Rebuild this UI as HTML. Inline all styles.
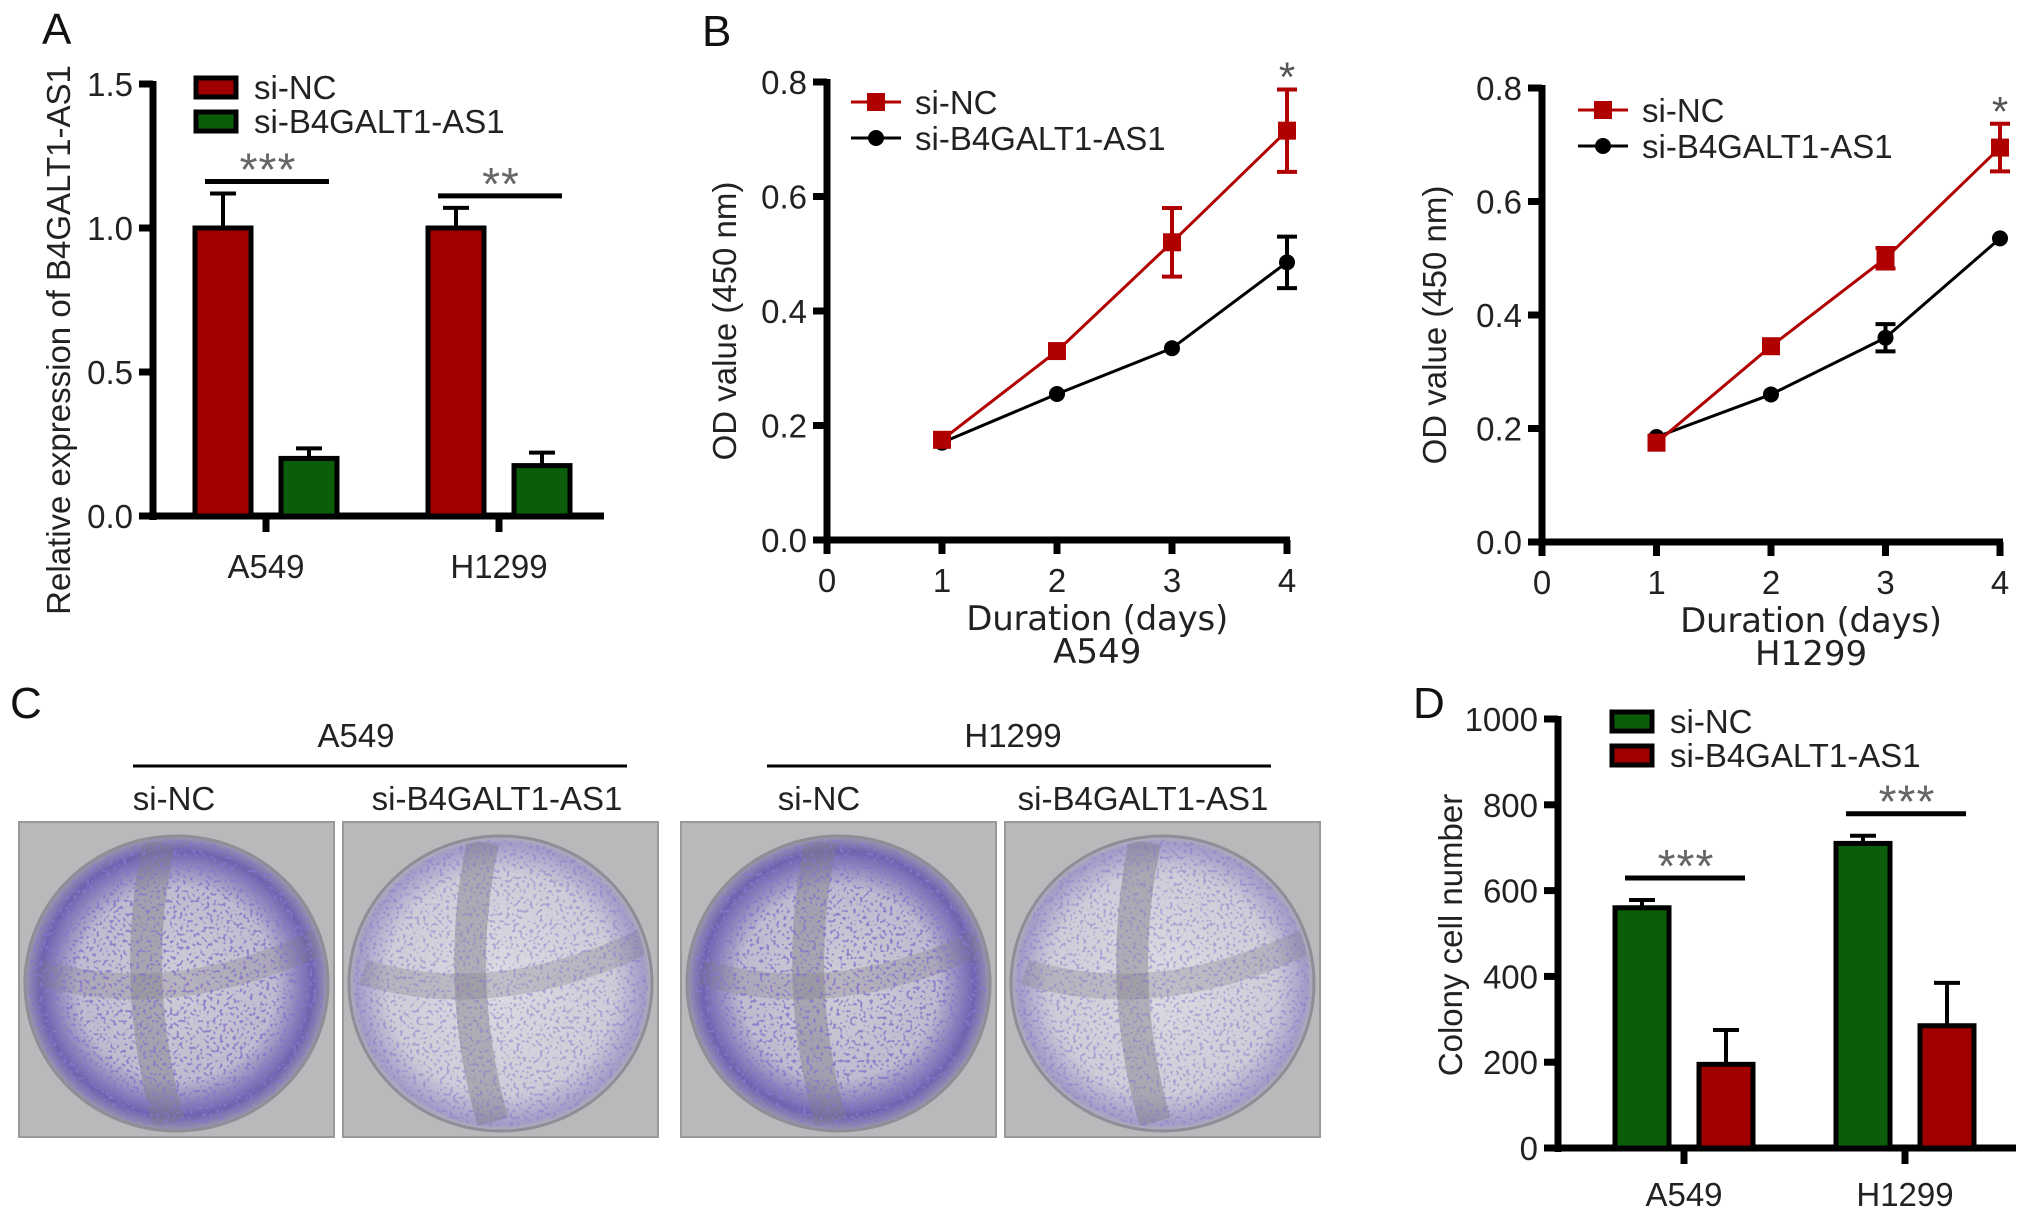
<!DOCTYPE html>
<html><head><meta charset="utf-8">
<style>
html,body{margin:0;padding:0;background:#fff;}
svg{display:block;font-family:"Liberation Sans",sans-serif;}
</style></head>
<body>
<svg id="fig" width="2032" height="1221" viewBox="0 0 2032 1221" xmlns="http://www.w3.org/2000/svg">
<defs>
<radialGradient id="wellGrad" cx="50%" cy="50%" r="50%">
<stop offset="0%" stop-color="#cfcdd6"/><stop offset="65%" stop-color="#bfbbd0"/><stop offset="90%" stop-color="#6e62b0"/><stop offset="100%" stop-color="#9c98b0"/>
</radialGradient>
<radialGradient id="wellGradLight" cx="50%" cy="50%" r="50%">
<stop offset="0%" stop-color="#dcdbe2"/><stop offset="75%" stop-color="#ceccd8"/><stop offset="95%" stop-color="#a49cc8"/><stop offset="100%" stop-color="#b0aeb8"/>
</radialGradient>
<filter id="speck" x="0" y="0" width="100%" height="100%">
<feTurbulence type="fractalNoise" baseFrequency="0.3" numOctaves="1" seed="3" result="n"/>
<feColorMatrix in="n" type="matrix" values="0 0 0 0 0.25  0 0 0 0 0.18  0 0 0 0 0.6  0 0 0 9 -5.0"/>
</filter>
</defs>
<g id="panelA"></g>
<g id="panelB1"></g>
<g id="panelB2"></g>
<g id="panelC"></g>
<g id="panelD"></g>
</svg>
<script>
// ---- Panel A data ----
const aCategories = ["A549", "H1299"];
const aSeriesNames = ["si-NC", "si-B4GALT1-AS1"];
const aNC = [1.0, 1.0];
const aNCErr = [0.12, 0.07];
const aSi = [0.2, 0.175];
const aSiErr = [0.035, 0.045];
const aTicks = ["0.0", "0.5", "1.0", "1.5"];
const aTickVals = [0, 0.5, 1.0, 1.5];
const aSig = ["***", "**"];

// ---- Panel B data ----
const bDays = [1, 2, 3, 4];
const bXTicks = [0, 1, 2, 3, 4];
const bYTicks = ["0.0", "0.2", "0.4", "0.6", "0.8"];
const bYTickVals = [0, 0.2, 0.4, 0.6, 0.8];
const b1NC = [0.175, 0.33, 0.52, 0.715];
const b1NCErr = [0.005, 0.005, 0.06, 0.072];
const b1Si = [0.17, 0.255, 0.335, 0.485];
const b1SiErr = [0.005, 0.005, 0.005, 0.045];
const b2NC = [0.175, 0.345, 0.5, 0.695];
const b2NCErr = [0.005, 0.005, 0.018, 0.042];
const b2Si = [0.185, 0.26, 0.36, 0.535];
const b2SiErr = [0.005, 0.005, 0.024, 0.005];

// ---- Panel D data ----
const dCategories = ["A549", "H1299"];
const dNC = [560, 710];
const dNCErr = [18, 18];
const dSi = [195, 285];
const dSiErr = [80, 100];
const dTicks = ["0", "200", "400", "600", "800", "1000"];
const dTickVals = [0, 200, 400, 600, 800, 1000];
const dSig = ["***", "***"];

const NS = "http://www.w3.org/2000/svg";
const RED = "#a00000", GREEN = "#0a5e0a";
const FS = 33;
function el(parent, tag, attrs, text) {
  const e = document.createElementNS(NS, tag);
  for (const k in attrs) e.setAttribute(k, attrs[k]);
  if (text !== undefined) e.textContent = text;
  parent.appendChild(e);
  return e;
}

// ---------- Bar chart ----------
function barChart(g, o) {
  const y = v => o.y0 - (v - o.vmin) / (o.vmax - o.vmin) * (o.y0 - o.y1);
  const axes = el(g, 'g', {});
  
  
  const ya = el(axes, 'line', {x1: o.ax, y1: o.y1 - 3, x2: o.ax, y2: o.y0 + 4, stroke: '#000', 'stroke-width': 7});
  
  
  const xa = el(axes, 'line', {x1: o.ax - 14, y1: o.y0, x2: o.axEnd, y2: o.y0, stroke: '#000', 'stroke-width': 7});
  
  
  o.tickVals.forEach((v, i) => {
    el(axes, 'line', {x1: o.ax - 14, y1: y(v), x2: o.ax, y2: y(v), stroke: '#000', 'stroke-width': 7});
    const t = el(axes, 'text', {x: o.ax - 20, y: y(v) + 12, 'text-anchor': 'end', 'font-size': FS, fill: '#222'}, o.ticks[i]);
    
    
  });
  const yt = el(g, 'text', {x: 0, y: 0, transform: `translate(${o.ytx},${o.yty}) rotate(-90)`, 'text-anchor': 'middle', 'font-size': FS, fill: '#222'}, o.ytitle);
  
  
  o.cats.forEach((c, i) => {
    const gx = o.gx[i];
    const bars = [[o.s1[i], o.e1[i], o.c1, gx - o.off], [o.s2[i], o.e2[i], o.c2, gx + o.off]];
    bars.forEach((b, j) => {
      const cx = b[3];
      const top = y(b[0]);
      el(g, 'line', {x1: cx, y1: top, x2: cx, y2: y(b[0] + b[1]), stroke: '#000', 'stroke-width': 4});
      el(g, 'line', {x1: cx - 13, y1: y(b[0] + b[1]), x2: cx + 13, y2: y(b[0] + b[1]), stroke: '#000', 'stroke-width': 4});
      const r = el(g, 'rect', {x: cx - o.bw / 2, y: top, width: o.bw, height: o.y0 - top, fill: b[2], stroke: '#000', 'stroke-width': 5});
      
      
    });
    el(g, 'line', {x1: gx, y1: o.y0, x2: gx, y2: o.y0 + 16, stroke: '#000', 'stroke-width': 7});
    const xl = el(g, 'text', {x: gx, y: o.xly, 'text-anchor': 'middle', 'font-size': FS, fill: '#222'}, c);
    
    
    const top = Math.max(o.s1[i] + o.e1[i], o.s2[i] + o.e2[i]);
    const sy = y(top) - o.sigGap;
    const sl = el(g, 'line', {x1: gx - o.off - o.bw / 2 + 10, y1: sy, x2: gx + o.off + o.bw / 2 - 8, y2: sy, stroke: '#000', 'stroke-width': 5});
    
    
    const st = el(g, 'text', {x: gx + 2, y: sy + 4, 'text-anchor': 'middle', 'font-size': 46, fill: '#666', 'letter-spacing': 1}, o.sig[i]);
    
    
  });
  o.legend.forEach((n, i) => {
    const ly = o.ly + i * 34;
    const lr = el(g, 'rect', {x: o.lx, y: ly, width: 40, height: 19, fill: i === 0 ? o.c1 : o.c2, stroke: '#000', 'stroke-width': 5});
    
    
    const lt = el(g, 'text', {x: o.lx + 58, y: ly + 21, 'font-size': FS, fill: '#222'}, n);
    
    
  });
  const L = el(g, 'text', {x: o.letter[0], y: o.letter[1], 'font-size': 44, fill: '#111'}, o.letter[2]);
  
  
}

barChart(document.getElementById('panelA'), {
  cats: aCategories, s1: aNC, e1: aNCErr, s2: aSi, e2: aSiErr, c1: RED, c2: GREEN,
  vmin: 0, vmax: 1.5, y0: 516, y1: 84, ax: 153, axEnd: 604, ticks: aTicks, tickVals: aTickVals,
  gx: [266, 499], off: 43, bw: 56, xly: 578, sig: aSig, sigGap: 12,
  ytitle: "Relative expression of B4GALT1-AS1", ytx: 70, yty: 340,
  legend: aSeriesNames, lx: 196, ly: 78, letter: [42, 44, 'A']
});
barChart(document.getElementById('panelD'), {
  cats: dCategories, s1: dNC, e1: dNCErr, s2: dSi, e2: dSiErr, c1: GREEN, c2: RED,
  vmin: 0, vmax: 1000, y0: 1148, y1: 719, ax: 1558, axEnd: 2016, ticks: dTicks, tickVals: dTickVals,
  gx: [1684, 1905], off: 42, bw: 54, xly: 1206, sig: dSig, sigGap: 22,
  ytitle: "Colony cell number", ytx: 1462, yty: 935,
  legend: aSeriesNames, lx: 1612, ly: 712, letter: [1413, 718, 'D']
});

// ---------- Line chart ----------
function lineChart(g, o) {
  const x = v => o.x0 + v * o.xu;
  const y = v => o.y0 - v / 0.8 * (o.y0 - o.y1);
  const ya = el(g, 'line', {x1: o.x0, y1: o.y1 - 3, x2: o.x0, y2: o.y0 + 4, stroke: '#000', 'stroke-width': 7});
  
  
  const xa = el(g, 'line', {x1: o.x0 - 14, y1: o.y0, x2: x(4) + 3, y2: o.y0, stroke: '#000', 'stroke-width': 7});
  
  
  bYTickVals.forEach((v, i) => {
    el(g, 'line', {x1: o.x0 - 14, y1: y(v), x2: o.x0, y2: y(v), stroke: '#000', 'stroke-width': 7});
    const t = el(g, 'text', {x: o.x0 - 20, y: y(v) + 12, 'text-anchor': 'end', 'font-size': FS, fill: '#222'}, bYTicks[i]);
    
    
  });
  bXTicks.forEach(v => {
    el(g, 'line', {x1: x(v), y1: o.y0, x2: x(v), y2: o.y0 + 14, stroke: '#000', 'stroke-width': 7});
    const t = el(g, 'text', {x: x(v), y: o.y0 + 52, 'text-anchor': 'middle', 'font-size': FS, fill: '#222'}, String(v));
    
    
  });
  const xt = el(g, 'text', {x: x(2.35), y: o.y0 + 90, 'text-anchor': 'middle', 'font-size': 34, fill: '#222', 'font-family': '"DejaVu Sans", sans-serif', 'textLength': 262}, 'Duration (days)');
  
  
  const ct = el(g, 'text', {x: x(2.35), y: o.y0 + 123, 'text-anchor': 'middle', 'font-size': 34, fill: '#222', 'font-family': '"DejaVu Sans", sans-serif'}, o.cell);
  
  
  const yt = el(g, 'text', {x: 0, y: 0, transform: `translate(${o.ytx},${(o.y0 + o.y1) / 2 + 10}) rotate(-90)`, 'text-anchor': 'middle', 'font-size': FS, fill: '#222'}, 'OD value (450 nm)');
  
  
  const series = [[o.si, o.siErr, '#000', 'circle'], [o.nc, o.ncErr, '#b00000', 'square']];
  series.forEach(s => {
    const pts = bDays.map((d, i) => x(d) + ',' + y(s[0][i])).join(' ');
    const pl = el(g, 'polyline', {points: pts, fill: 'none', stroke: s[2], 'stroke-width': 3});
    
    
    bDays.forEach((d, i) => {
      const cx = x(d), cy = y(s[0][i]), e = s[1][i];
      if (e > 0.01) {
        el(g, 'line', {x1: cx, y1: y(s[0][i] - e), x2: cx, y2: y(s[0][i] + e), stroke: s[2], 'stroke-width': 4});
        el(g, 'line', {x1: cx - 10, y1: y(s[0][i] + e), x2: cx + 10, y2: y(s[0][i] + e), stroke: s[2], 'stroke-width': 4});
        el(g, 'line', {x1: cx - 10, y1: y(s[0][i] - e), x2: cx + 10, y2: y(s[0][i] - e), stroke: s[2], 'stroke-width': 4});
      }
      let m;
      if (s[3] === 'circle') m = el(g, 'circle', {cx: cx, cy: cy, r: 8, fill: '#000'});
      else m = el(g, 'rect', {x: cx - 9, y: cy - 9, width: 18, height: 18, fill: '#b00000'});
      
      
    });
  });
  const star = el(g, 'text', {x: x(4), y: y(o.nc[3] + o.ncErr[3]) + 2, 'text-anchor': 'middle', 'font-size': 42, fill: '#555'}, '*');
  
  
  [['si-NC', '#b00000', 'square'], ['si-B4GALT1-AS1', '#000', 'circle']].forEach((l, i) => {
    const ly = o.ly + i * 36;
    el(g, 'line', {x1: o.lx, y1: ly, x2: o.lx + 50, y2: ly, stroke: l[1], 'stroke-width': 3});
    if (l[2] === 'square') el(g, 'rect', {x: o.lx + 16, y: ly - 9, width: 18, height: 18, fill: l[1]});
    else el(g, 'circle', {cx: o.lx + 25, cy: ly, r: 8, fill: l[1]});
    const t = el(g, 'text', {x: o.lx + 64, y: ly + 12, 'font-size': FS, fill: '#222'}, l[0]);
    
    
  });
}
lineChart(document.getElementById('panelB1'), {x0: 827, xu: 115, y0: 540, y1: 82, nc: b1NC, ncErr: b1NCErr, si: b1Si, siErr: b1SiErr, cell: 'A549', ytx: 736, lx: 851, ly: 102});
lineChart(document.getElementById('panelB2'), {x0: 1542, xu: 114.5, y0: 542, y1: 88, nc: b2NC, ncErr: b2NCErr, si: b2Si, siErr: b2SiErr, cell: 'H1299', ytx: 1446, lx: 1578, ly: 110});
(function () {
  const g = document.getElementById('panelB1');
  const t = el(g, 'text', {x: 702, y: 46, 'font-size': 44, fill: '#111'}, 'B');
  
  
})();

// ---------- Panel C: images ----------
(function () {
  const g = document.getElementById('panelC');
  const L = el(g, 'text', {x: 10, y: 718, 'font-size': 44, fill: '#111'}, 'C');
  
  
  const groups = [['A549', 356, 133, 627], ['H1299', 1013, 767, 1271]];
  groups.forEach(gr => {
    const t = el(g, 'text', {x: gr[1], y: 747, 'text-anchor': 'middle', 'font-size': FS, fill: '#222'}, gr[0]);
    
    
    const ln = el(g, 'line', {x1: gr[2], y1: 766, x2: gr[3], y2: 766, stroke: '#000', 'stroke-width': 3});
    
    
  });
  const labs = [['si-NC', 174], ['si-B4GALT1-AS1', 497], ['si-NC', 819], ['si-B4GALT1-AS1', 1143]];
  labs.forEach(l => {
    const t = el(g, 'text', {x: l[1], y: 810, 'text-anchor': 'middle', 'font-size': FS, fill: '#222'}, l[0]);
    
    
  });
  const defs = document.querySelector('defs');
  const imgs = [[19, true], [343, false], [681, true], [1005, false]];
  imgs.forEach((im, i) => {
    const x0 = im[0], y0 = 822, w = 315, h = 315;
    const cp = el(defs, 'clipPath', {id: 'clipw' + i});
    el(cp, 'ellipse', {cx: x0 + w / 2, cy: y0 + h / 2 + 4, rx: w / 2 - 10, ry: h / 2 - 14});
    const ig = el(g, 'g', {});
    
    
    el(ig, 'rect', {x: x0, y: y0, width: w, height: h, fill: '#b9b8ba', stroke: '#999', 'stroke-width': 2});
    el(ig, 'ellipse', {cx: x0 + w / 2, cy: y0 + h / 2 + 4, rx: w / 2 - 6, ry: h / 2 - 10, fill: im[1] ? 'url(#wellGrad)' : 'url(#wellGradLight)', stroke: '#8f8d96', 'stroke-width': 3});
    const inner = el(ig, 'g', {'clip-path': 'url(#clipw' + i + ')'});
    el(inner, 'path', {d: `M${x0 + 140} ${y0 + 20} Q${x0 + 110} ${y0 + 160} ${x0 + 150} ${y0 + 300}`, stroke: '#7f7c86', 'stroke-width': 32, fill: 'none', opacity: 0.45});
    el(inner, 'path', {d: `M${x0 + 20} ${y0 + 150} Q${x0 + 150} ${y0 + 190} ${x0 + 300} ${y0 + 120}`, stroke: '#7f7c86', 'stroke-width': 26, fill: 'none', opacity: 0.3});
    el(inner, 'rect', {x: x0, y: y0, width: w, height: h, fill: '#000', filter: 'url(#speck)', opacity: im[1] ? 0.85 : 0.5});
  });
})();
</script>
</body></html>
